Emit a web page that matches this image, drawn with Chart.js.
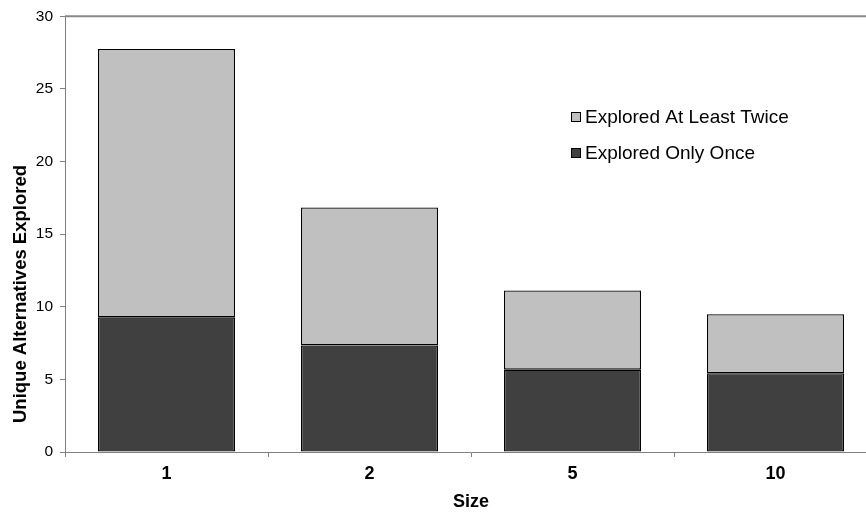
<!DOCTYPE html>
<html>
<head>
<meta charset="utf-8">
<script src="https://cdn.jsdelivr.net/npm/chart.js@4/dist/chart.umd.min.js"></script>
<style>
  html, body { margin: 0; padding: 0; background: #fff; overflow: hidden; }
  #wrap { width: 866px; height: 517px; overflow: hidden; position: relative; }
  #c { position: absolute; left: 0; top: 0; }
</style>
</head>
<body>
<div id="wrap"><canvas id="c" width="877" height="517"></canvas></div>
<script>
const categories = ['1', '2', '5', '10'];
const exploredOnce = [9.27, 7.34, 5.67, 5.42];
const exploredTwice = [18.48, 9.50, 5.45, 4.07];
const yTicks = [0, 5, 10, 15, 20, 25, 30];
const yTitle = 'Unique Alternatives Explored';
const xTitle = 'Size';

const FONT = "'Liberation Sans', Arial, sans-serif";

const legendPlugin = {
  id: 'insideLegend',
  afterDraw(chart) {
    const ctx = chart.ctx;
    const items = [chart.data.datasets[1], chart.data.datasets[0]];
    const x = 571, ys = [117, 153];
    ctx.save();
    ctx.font = "19px " + FONT;
    ctx.textBaseline = 'middle';
    items.forEach((ds, i) => {
      const y = ys[i];
      ctx.fillStyle = '#000';
      ctx.fillRect(x, y - 5, 10, 10);
      ctx.fillStyle = ds.backgroundColor;
      ctx.fillRect(x + 1, y - 4, 8, 8);
      ctx.fillStyle = '#000';
      ctx.fillText(ds.label, x + 14, y + 1);
    });
    ctx.restore();
  }
};

const topBorder = {
  id: 'topBorder',
  afterDatasetsDraw(chart) {
    const { ctx, chartArea } = chart;
    ctx.save();
    ctx.strokeStyle = '#888888';
    ctx.lineWidth = 2;
    ctx.beginPath();
    ctx.moveTo(chartArea.left, chartArea.top);
    ctx.lineTo(chartArea.right + 2, chartArea.top);
    ctx.stroke();
    ctx.restore();
  }
};

const yTitlePlugin = {
  id: 'yTitle',
  afterDraw(chart) {
    const ctx = chart.ctx;
    ctx.save();
    ctx.translate(25.5, 294);
    ctx.rotate(-Math.PI / 2);
    ctx.font = "bold 18.5px " + FONT;
    ctx.fillStyle = '#000';
    ctx.textAlign = 'center';
    ctx.textBaseline = 'alphabetic';
    ctx.fillText(yTitle, 0, 0);
    ctx.restore();
  }
};

new Chart(document.getElementById('c'), {
  type: 'bar',
  data: {
    labels: categories,
    datasets: [
      {
        label: 'Explored Only Once',
        data: exploredOnce,
        backgroundColor: '#404040',
        borderColor: '#000000',
        borderWidth: 1.3,
        borderSkipped: false,
        categoryPercentage: 1.0,
        barPercentage: 0.675
      },
      {
        label: 'Explored At Least Twice',
        data: exploredTwice,
        backgroundColor: '#C0C0C0',
        borderColor: '#000000',
        borderWidth: 1.3,
        borderSkipped: false,
        categoryPercentage: 1.0,
        barPercentage: 0.675
      }
    ]
  },
  options: {
    responsive: false,
    animation: false,
    devicePixelRatio: 1,
    layout: { padding: { top: 15, right: 0, left: 0, bottom: 0 } },
    plugins: {
      legend: { display: false },
      tooltip: { enabled: false }
    },
    scales: {
      x: {
        stacked: true,
        grid: {
          display: true,
          drawOnChartArea: false,
          drawTicks: true,
          tickLength: 5,
          color: '#808080',
          offset: true
        },
        border: { display: true, color: '#808080', width: 1 },
        ticks: {
          color: '#000',
          font: { family: FONT, size: 18, weight: 'bold' },
          padding: 6
        },
        title: {
          display: true,
          text: xTitle,
          color: '#000',
          font: { family: FONT, size: 18, weight: 'bold' },
          padding: { top: 4, bottom: 4 }
        },
        afterFit(scale) { scale.height = 65; }
      },
      y: {
        stacked: true,
        min: 0,
        max: 30,
        afterBuildTicks(scale) { scale.ticks = yTicks.map(v => ({ value: v })); },
        grid: {
          display: true,
          drawOnChartArea: false,
          drawTicks: true,
          tickLength: 5,
          color: '#808080'
        },
        border: { display: true, color: '#808080', width: 1 },
        ticks: {
          color: '#000',
          font: { family: FONT, size: 15.5 },
          padding: 7
        },
        title: { display: false },
        afterFit(scale) { scale.width = 65; }
      }
    }
  },
  plugins: [topBorder, legendPlugin, yTitlePlugin]
});
</script>
</body>
</html>
